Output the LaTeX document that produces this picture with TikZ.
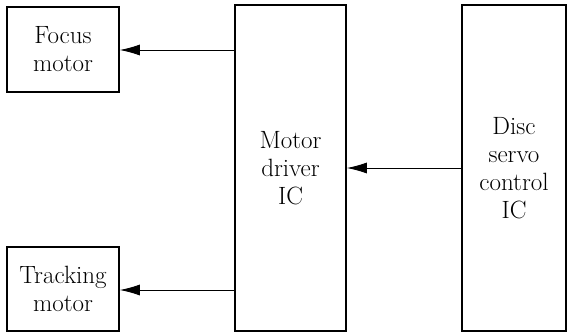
\documentclass[tikz,border=0pt]{standalone}
\usepackage{fontspec}
\usetikzlibrary{arrows.meta}
\begin{document}
\begin{tikzpicture}[x=1pt,y=1pt,
  blk/.style={draw, line width=1.6pt, inner sep=0pt, align=center,
    font=\fontsize{25}{28}\selectfont},
  conn/.style={line width=0.9pt, -{Latex[length=20pt,width=11pt]}}]
\useasboundingbox (0,0) rectangle (569,333);
\node[blk, minimum width=112pt, minimum height=85pt] (focus) at (63,283.5) {Focus\\motor};
\node[blk, minimum width=112pt, minimum height=84pt] (track) at (63,44) {Tracking\\motor};
\node[blk, minimum width=111pt, minimum height=326pt] (drv) at (290.5,165) {Motor\\driver\\IC};
\node[blk, minimum width=104pt, minimum height=326pt] (servo) at (514,165) {Disc\\servo\\control\\IC};
\draw[conn] (drv.west |- 0,283) -- (focus.east |- 0,283);
\draw[conn] (drv.west |- 0,43) -- (track.east |- 0,43);
\draw[conn] (servo.west |- 0,165) -- (drv.east |- 0,165);
\end{tikzpicture}
\end{document}
